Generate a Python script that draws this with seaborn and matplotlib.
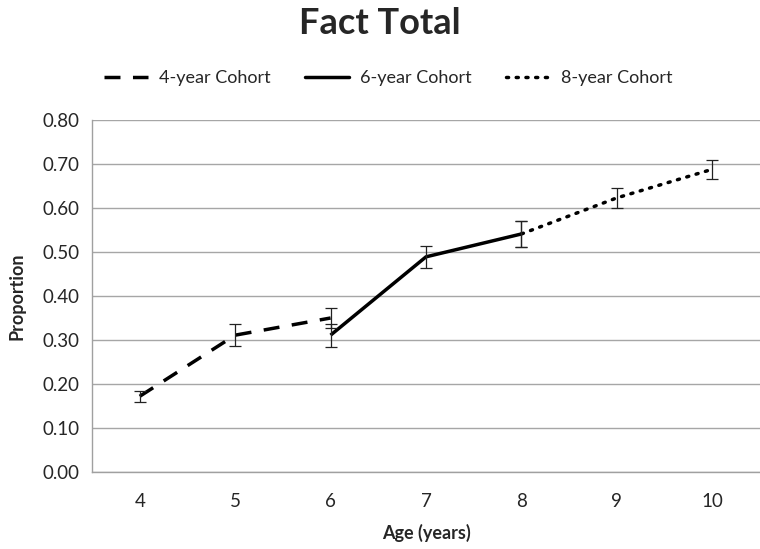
import matplotlib
matplotlib.use("Agg")
import matplotlib.pyplot as plt
import seaborn as sns
import pandas as pd
from matplotlib.lines import Line2D

# ---- data ----
cohorts = ["4-year Cohort", "6-year Cohort", "8-year Cohort"]
age_4yr = [4, 5, 6]
prop_4yr = [0.172, 0.311, 0.350]
err_4yr = [0.012, 0.025, 0.022]
age_6yr = [6, 7, 8]
prop_6yr = [0.311, 0.489, 0.541]
err_6yr = [0.026, 0.025, 0.029]
age_8yr = [8, 9, 10]
prop_8yr = [0.541, 0.623, 0.688]
err_8yr = [0.030, 0.022, 0.021]
x_ticks = [4, 5, 6, 7, 8, 9, 10]
y_ticks = [0.0, 0.1, 0.2, 0.3, 0.4, 0.5, 0.6, 0.7, 0.8]

df = pd.DataFrame({
    "Age": age_4yr + age_6yr + age_8yr,
    "Proportion": prop_4yr + prop_6yr + prop_8yr,
    "Err": err_4yr + err_6yr + err_8yr,
    "Cohort": [cohorts[0]] * 3 + [cohorts[1]] * 3 + [cohorts[2]] * 3,
})

sns.set_theme(style="white")
plt.rcParams["font.family"] = ["Lato", "DejaVu Sans"]

W, H = 760, 549
fig = plt.figure(figsize=(W / 100, H / 100), dpi=100)
ax = fig.add_axes([92 / W, 77 / H, (W - 92) / W, (472 - 120) / H])

DASH = (4.6, 3.6)
DOT = (0.6, 2.2)
dash_styles = {cohorts[0]: DASH, cohorts[1]: "", cohorts[2]: DOT}
sns.lineplot(data=df, x="Age", y="Proportion", hue="Cohort", style="Cohort",
             palette=["black"] * 3, dashes=dash_styles, linewidth=2.5,
             legend=False, ax=ax, estimator=None, sort=False)
for l in ax.lines:
    l.set_solid_capstyle("butt")
ax.lines[2].set_dash_capstyle("round")

# error bars
for c in cohorts:
    sub = df[df["Cohort"] == c]
    ax.errorbar(sub["Age"], sub["Proportion"], yerr=sub["Err"], fmt="none",
                ecolor="#222222", elinewidth=0.9, capsize=4, capthick=0.9, zorder=3)

ax.set_xlim(3.5, 3.5 + (W - 92) / 96.2)
ax.set_ylim(0, 0.8)
ax.set_yticks(y_ticks)
ax.set_yticklabels([f"{v:.2f}" for v in y_ticks], fontsize=13.5)
ax.set_xticks(x_ticks)
ax.set_xticklabels([str(v) for v in x_ticks], fontsize=13.5)
ax.set_xticks([v - 0.5 for v in x_ticks] + [10.5], minor=True)
ax.tick_params(axis="x", which="major", length=0, pad=15)
ax.tick_params(axis="x", which="minor", length=5, color="#a0a0a0", width=1, direction="out")
ax.tick_params(axis="y", length=5, color="#a0a0a0", width=1, direction="out", pad=4)
ax.yaxis.grid(True, color="#a6a6a6", linewidth=1)
ax.xaxis.grid(False)
ax.set_axisbelow(True)
for s in ["top", "right"]:
    ax.spines[s].set_visible(False)
for s in ["left", "bottom"]:
    ax.spines[s].set_color("#a0a0a0")
    ax.spines[s].set_linewidth(1)

ax.set_xlabel("Age (years)", fontsize=13, fontweight="bold", labelpad=10)
ax.set_ylabel("Proportion", fontsize=13, fontweight="bold", labelpad=12)

fig.text(380 / W, 1 - 24 / H, "Fact Total", ha="center", va="center",
         fontsize=26, fontweight="bold")

handles = [
    Line2D([], [], color="black", lw=2.5, dashes=DASH),
    Line2D([], [], color="black", lw=2.5),
    Line2D([], [], color="black", lw=2.5, dashes=DOT, dash_capstyle="round"),
]
fig.legend(handles, cohorts, loc="center", bbox_to_anchor=(388 / W, 1 - 78 / H),
           ncol=3, frameon=False, fontsize=13, handlelength=2.45,
           columnspacing=1.9, handletextpad=0.6)

fig.savefig("out.png", dpi=100)
